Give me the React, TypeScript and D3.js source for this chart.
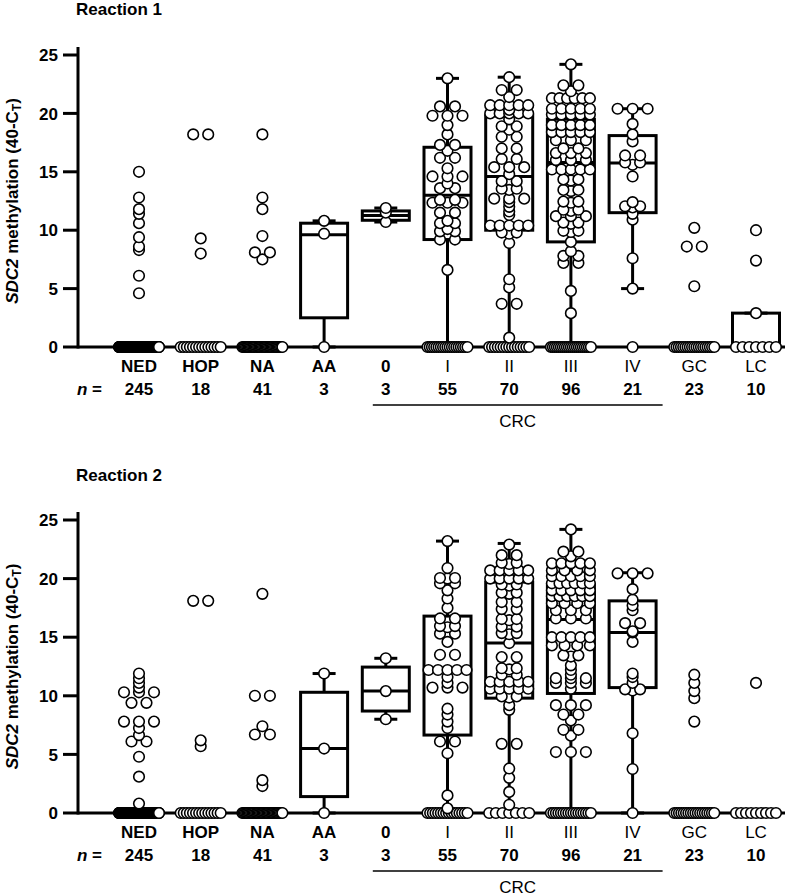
import React from 'react'
import * as d3 from 'd3'

const categories = ['NED', 'HOP', 'NA', 'AA', '0', 'I', 'II', 'III', 'IV', 'GC', 'LC']
const groupSizes = [245, 18, 41, 3, 3, 55, 70, 96, 21, 23, 10]
const boldCategory = [true, true, true, true, true, false, false, false, false, false, false]
const yTicks = [0, 5, 10, 15, 20, 25]

// non-zero values of each group, the remaining samples of a group are at 0
const reaction1Values: number[][] = [
  [15.0, 12.8, 11.8, 11.4, 10.6, 9.4, 8.6, 8.3, 6.1, 4.6],
  [18.2, 18.2, 9.3, 8.0],
  [18.2, 12.8, 11.8, 9.5, 8.1, 8.1, 7.5],
  [10.8, 9.7],
  [11.9, 11.5, 10.7],
  [23.0, 20.6, 20.6, 19.8, 19.8, 19.8, 19.0, 18.2, 17.3, 17.3, 16.8, 16.2, 16.2, 15.3, 14.6, 14.6, 14.6, 14.0,
    13.6, 13.6, 12.6, 12.6, 12.35, 12.35, 12.35, 11.5, 11.5, 10.8, 10.6, 10.6, 10.1, 9.9, 9.9, 9.2, 9.2, 6.6],
  [23.1, 22.0, 22.0, 21.4, 20.7, 20.7, 20.7, 20.7, 20.7, 20.3, 20.0, 20.0, 20.0, 20.0, 20.0, 19.5, 18.9, 18.9,
    18.6, 18.0, 18.0, 17.0, 17.0, 16.1, 16.1, 15.4, 15.4, 15.4, 14.8, 14.2, 14.2, 13.55, 13.55, 13.45, 12.7,
    12.7, 12.7, 12.4, 12.0, 11.6, 11.3, 10.4, 10.4, 10.4, 10.4, 10.4, 9.8, 9.8, 9.7, 8.9, 5.8, 5.1, 3.7, 3.7, 0.8],
  [24.2, 22.4, 22.4, 21.9, 21.3, 21.3, 21.3, 21.3, 21.3, 21.3, 20.4, 20.4, 20.4, 20.4, 20.4, 19.9, 19.9, 19.9,
    19.9, 19.9, 19.0, 19.0, 19.0, 19.0, 19.0, 18.4, 18.4, 18.4, 18.4, 18.4, 17.7, 17.7, 17.7, 17.0, 17.0, 16.6,
    16.6, 16.6, 16.0, 16.0, 16.0, 15.2, 15.2, 15.2, 15.2, 15.2, 14.35, 14.35, 14.25, 13.45, 13.45, 13.35, 12.45,
    12.45, 12.35, 11.75, 11.75, 11.65, 11.2, 11.2, 11.2, 10.65, 10.65, 10.55, 9.95, 9.95, 9.85, 9.0, 8.2, 7.8,
    7.8, 7.2, 7.2, 4.8, 2.9],
  [20.4, 20.4, 20.4, 19.1, 18.2, 17.6, 16.4, 16.4, 15.8, 15.8, 15.6, 14.6, 12.4, 12.05, 12.05, 11.95, 11.4,
    10.9, 7.6, 5.0],
  [10.2, 8.6, 8.6, 5.2],
  [10.0, 7.4, 2.9],
]

// [low whisker, q1, median, q3, high whisker]
const reaction1Boxes: (number[] | null)[] = [
  null, null, null,
  [0, 2.5, 9.6, 10.6, 10.8],
  [10.7, 10.85, 11.25, 11.65, 11.9],
  [0, 9.2, 13.0, 17.1, 23.0],
  [0, 10.0, 14.6, 19.8, 23.1],
  [0, 9.0, 15.8, 19.5, 24.2],
  [5.0, 11.5, 15.75, 18.1, 20.4],
  null,
  [0, 0, 0, 2.9, 2.9],
]

const reaction2Values: number[][] = [
  [11.9, 11.5, 11.1, 10.7, 10.3, 10.3, 10.3, 9.4, 9.4, 7.8, 7.8, 7.8, 7.25, 6.65, 6.1, 6.1, 4.8, 3.1, 0.8],
  [18.1, 18.1, 6.2, 5.7],
  [18.7, 10.0, 10.0, 7.4, 6.7, 6.7, 2.8, 2.3],
  [11.9, 5.5],
  [13.2, 10.4, 8.0],
  [23.2, 20.9, 20.05, 20.05, 20.0, 19.6, 19.6, 19.0, 18.3, 17.5, 16.6, 16.6, 15.95, 15.95, 15.85, 15.3, 15.3,
    14.6, 13.5, 13.5, 12.2, 12.2, 12.2, 12.2, 12.2, 11.6, 11.1, 10.7, 10.7, 10.7, 8.9, 8.4, 7.8, 7.25, 6.1, 6.1,
    5.1, 1.5, 0.4],
  [22.9, 22.0, 22.0, 21.35, 21.35, 21.25, 20.7, 20.7, 20.7, 20.7, 20.7, 20.0, 20.0, 20.0, 20.0, 20.0, 19.5, 19.5,
    19.4, 18.8, 18.8, 18.7, 18.0, 18.0, 17.4, 17.4, 16.55, 16.55, 16.45, 15.9, 15.9, 15.35, 15.35, 15.25, 14.5,
    13.3, 13.3, 12.35, 12.35, 12.25, 11.8, 11.8, 11.2, 11.2, 11.2, 11.2, 11.2, 10.6, 10.6, 10.6, 10.6, 10.6,
    9.95, 9.95, 9.85, 9.2, 8.8, 5.9, 5.9, 3.8, 3.0, 1.8, 0.7],
  [24.2, 22.3, 22.3, 21.9, 21.3, 21.3, 21.3, 21.3, 21.3, 20.7, 20.7, 20.7, 20.7, 20.2, 20.2, 20.2, 20.2, 20.2,
    19.6, 19.6, 19.6, 19.6, 19.6, 19.6, 19.0, 19.0, 19.0, 19.0, 19.0, 18.5, 18.5, 18.5, 18.5, 18.5, 18.5, 17.9,
    17.9, 17.9, 17.9, 17.3, 17.3, 17.3, 16.6, 16.6, 16.6, 15.0, 15.0, 15.0, 15.0, 15.0, 14.3, 14.3, 14.3, 14.3,
    13.45, 13.45, 13.35, 12.6, 12.2, 11.8, 11.5, 11.5, 11.5, 11.1, 11.1, 11.1, 10.6, 9.2, 9.2, 9.2, 8.4, 8.4, 7.9,
    7.1, 7.1, 6.6, 5.2, 5.2, 5.2],
  [20.45, 20.45, 20.45, 19.1, 18.2, 17.7, 17.3, 16.2, 16.2, 15.5, 15.4, 14.6, 11.9, 11.6, 11.1, 10.55, 10.55,
    10.45, 6.8, 3.75],
  [11.8, 11.1, 10.4, 9.8, 7.8],
  [11.1],
]

const reaction2Boxes: (number[] | null)[] = [
  null, null, null,
  [0, 1.4, 5.5, 10.3, 11.9],
  [8.0, 8.7, 10.4, 12.45, 13.2],
  [0, 6.65, 12.2, 16.8, 23.2],
  [0, 9.8, 14.5, 19.7, 23.0],
  [0, 10.2, 16.5, 19.5, 24.2],
  [0, 10.7, 15.4, 18.1, 20.5],
  null,
  null,
]

const font = '"Liberation Sans", Arial, sans-serif'
const R = 5.3

// Prism-like scatter: equal values share a row and are spread sideways
function swarm(values: number[], zeros: number) {
  const all = values.concat(d3.range(Math.max(0, zeros)).map(() => 0))
  const rows = d3.groups(all, (v) => v).sort((a, b) => a[0] - b[0])
  const out: { v: number; dx: number }[] = []
  rows.forEach(([v, row]) => {
    const k = row.length
    const half = v === 0 ? 20 : 19
    const step = k > 1 ? Math.min(15, (2 * half) / (k - 1)) : 0
    row.forEach((_, i) => out.push({ v, dx: (i - (k - 1) / 2) * step }))
  })
  return out
}

interface PanelProps {
  title: string
  titleY: number
  values: number[][]
  boxes: (number[] | null)[]
  yRange: [number, number]
}

const Panel = ({ title, titleY, values, boxes, yRange }: PanelProps) => {
  const x = d3.scalePoint<string>().domain(categories).range([139, 756])
  const y = d3.scaleLinear().domain([0, 25]).range(yRange)
  const y0 = y(0)
  const axisX = 78
  const crcX1 = (x('0') as number) - 13
  const crcX2 = (x('IV') as number) + 30

  return (
    <g fontFamily={font}>
      <text x={76} y={titleY} fontSize={17} fontWeight="bold">
        {title}
      </text>

      <text
        transform={`translate(18,${(y(0) + y(25)) / 2}) rotate(-90)`}
        textAnchor="middle"
        fontSize={17}
        fontWeight="bold"
      >
        <tspan fontStyle="italic">SDC2</tspan> methylation (40-C
        <tspan fontSize={12} dy={3}>
          T
        </tspan>
        <tspan dy={-3}>)</tspan>
      </text>

      {/* boxes and whiskers */}
      {boxes.map((b, i) => {
        if (!b) return null
        const cx = x(categories[i]) as number
        const [lo, q1, med, q3, hi] = b
        return (
          <g key={i} stroke="#000" strokeWidth={3} fill="none">
            <line x1={cx} x2={cx} y1={y(hi)} y2={y(q3)} />
            <line x1={cx} x2={cx} y1={y(q1)} y2={y(lo)} />
            <line x1={cx - 11.5} x2={cx + 11.5} y1={y(hi)} y2={y(hi)} />
            <line x1={cx - 11.5} x2={cx + 11.5} y1={y(lo)} y2={y(lo)} />
            <rect x={cx - 23.5} width={47} y={y(q3)} height={y(q1) - y(q3)} />
            <line x1={cx - 23.5} x2={cx + 23.5} y1={y(med)} y2={y(med)} />
          </g>
        )
      })}

      {/* axes */}
      <line x1={axisX} x2={axisX} y1={y0 + 1.5} y2={y(25) - 8} stroke="#000" strokeWidth={3} />
      <line x1={axisX} x2={785} y1={y0} y2={y0} stroke="#000" strokeWidth={3} />
      {yTicks.map((t) => (
        <g key={t}>
          <line x1={63} x2={axisX} y1={y(t)} y2={y(t)} stroke="#000" strokeWidth={3} />
          <text x={58} y={y(t)} dy="0.36em" textAnchor="end" fontSize={17} fontWeight="bold">
            {t}
          </text>
        </g>
      ))}

      {/* points */}
      {values.map((vals, i) => {
        const cx = x(categories[i]) as number
        const pts = swarm(vals, groupSizes[i] - vals.length)
        return (
          <g key={i} fill="#fff" stroke="#000" strokeWidth={1.6}>
            {pts.map((p, j) => (
              <circle key={j} cx={cx + p.dx} cy={y(p.v)} r={R} />
            ))}
          </g>
        )
      })}

      {/* category and n labels */}
      {categories.map((c, i) => (
        <g key={c}>
          <text
            x={x(c)}
            y={y0 + 25}
            textAnchor="middle"
            fontSize={17}
            fontWeight={boldCategory[i] ? 'bold' : 'normal'}
          >
            {c}
          </text>
          <text x={x(c)} y={y0 + 48} textAnchor="middle" fontSize={17} fontWeight="bold">
            {groupSizes[i]}
          </text>
        </g>
      ))}
      <text x={77} y={y0 + 48} fontSize={17} fontWeight="bold">
        <tspan fontStyle="italic">n</tspan> =
      </text>

      <line x1={crcX1} x2={crcX2} y1={y0 + 58} y2={y0 + 58} stroke="#000" strokeWidth={1.5} />
      <text x={(crcX1 + crcX2) / 2} y={y0 + 80} textAnchor="middle" fontSize={17}>
        CRC
      </text>
    </g>
  )
}

export default function App() {
  return (
    <svg
      width={787}
      height={896}
      viewBox="0 0 787 896"
      style={{ position: 'absolute', left: 0, top: 0, background: '#fff' }}
    >
      <rect width={787} height={896} fill="#fff" />
      <Panel title="Reaction 1" titleY={15} values={reaction1Values} boxes={reaction1Boxes} yRange={[347, 55]} />
      <Panel title="Reaction 2" titleY={481} values={reaction2Values} boxes={reaction2Boxes} yRange={[813, 520]} />
    </svg>
  )
}
